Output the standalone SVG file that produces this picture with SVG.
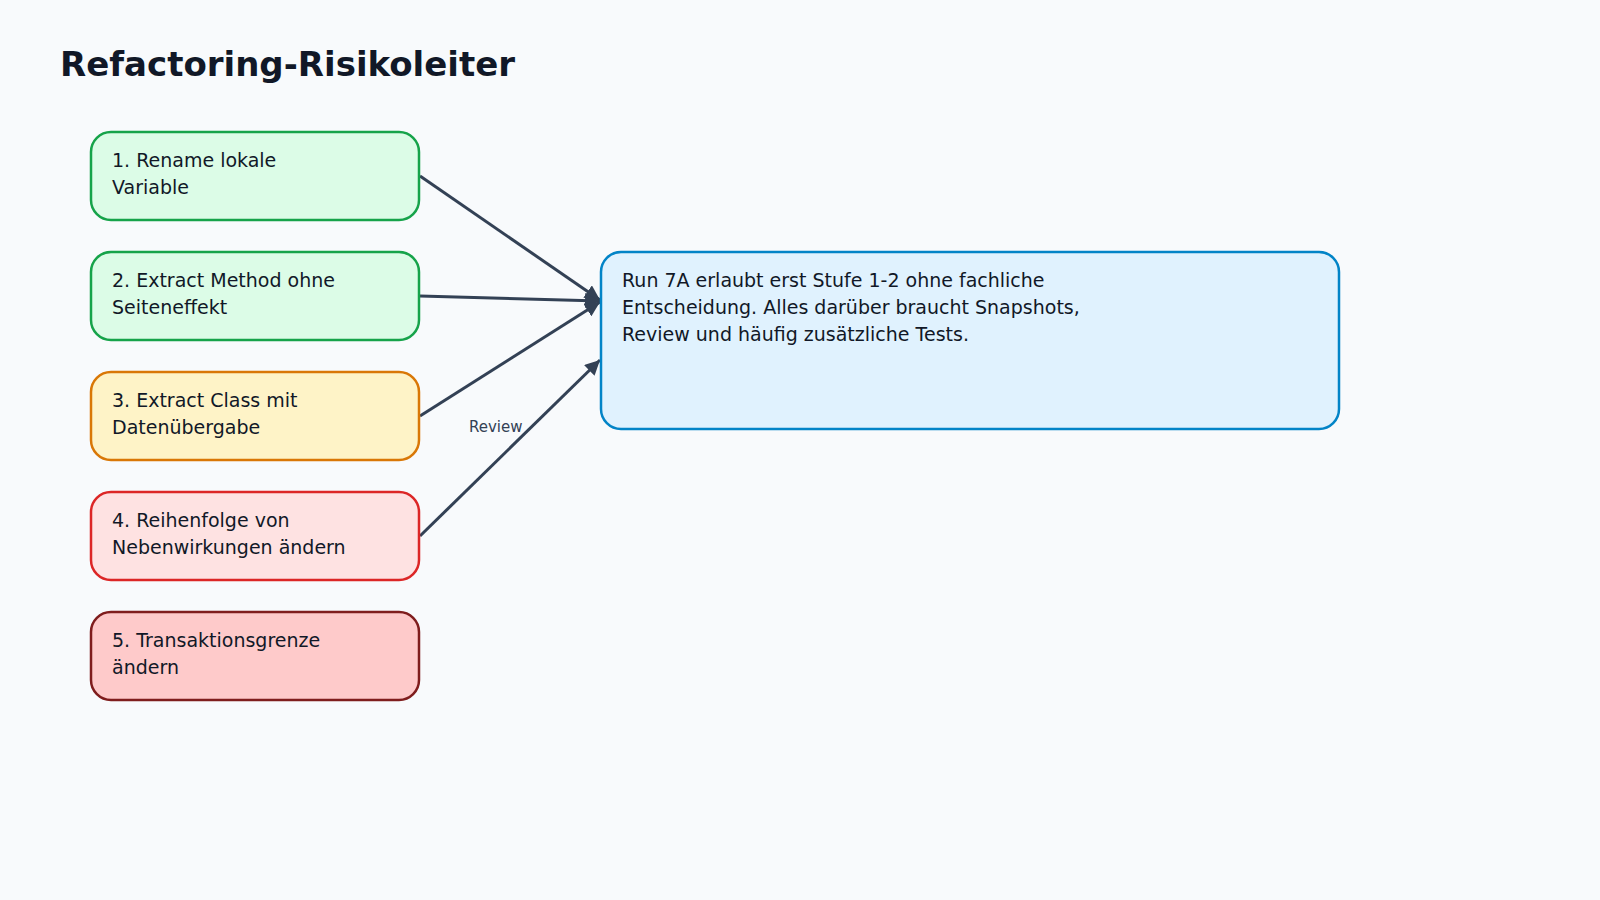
<svg xmlns="http://www.w3.org/2000/svg" width="1600" height="900" viewBox="0 0 1600 900">
<style>
text{font-family:"DejaVu Sans","Noto Sans",sans-serif;fill:#111827}
.t{font-size:19px}
.box{stroke-width:2.5}
.e{stroke:#334155;stroke-width:3;fill:none}
</style>
<defs><marker id="a" viewBox="0 0 10 10" refX="10" refY="5" markerWidth="5" markerHeight="5" orient="auto" markerUnits="strokeWidth"><path d="M0,0L10,5L0,10z" fill="#334155"/></marker></defs>
<rect width="1600" height="900" fill="#f8fafc"/>
<text x="60" y="76" style="font-size:34px;font-weight:bold">Refactoring-Risikoleiter</text>
<g id="connectors">
<line class="e" x1="420" y1="176" x2="600" y2="300" marker-end="url(#a)"/>
<line class="e" x1="420" y1="296" x2="600" y2="301" marker-end="url(#a)"/>
<line class="e" x1="420" y1="416" x2="600" y2="302" marker-end="url(#a)"/>
<line class="e" x1="420" y1="536" x2="600" y2="360" marker-end="url(#a)"/>
<text x="469" y="432" style="font-size:15px;fill:#334155">Review</text>
</g>
<g id="n1"><rect class="box" x="91" y="132" width="328" height="88" rx="20" fill="#dcfce7" stroke="#16a34a"/><text class="t" x="112" y="167">1. Rename lokale</text><text class="t" x="112" y="194">Variable</text></g>
<g id="n2"><rect class="box" x="91" y="252" width="328" height="88" rx="20" fill="#dcfce7" stroke="#16a34a"/><text class="t" x="112" y="287">2. Extract Method ohne</text><text class="t" x="112" y="314">Seiteneffekt</text></g>
<g id="n3"><rect class="box" x="91" y="372" width="328" height="88" rx="20" fill="#fef3c7" stroke="#d97706"/><text class="t" x="112" y="407">3. Extract Class mit</text><text class="t" x="112" y="434">Datenübergabe</text></g>
<g id="n4"><rect class="box" x="91" y="492" width="328" height="88" rx="20" fill="#fee2e2" stroke="#dc2626"/><text class="t" x="112" y="527">4. Reihenfolge von</text><text class="t" x="112" y="554">Nebenwirkungen ändern</text></g>
<g id="n5"><rect class="box" x="91" y="612" width="328" height="88" rx="20" fill="#fecaca" stroke="#7f1d1d"/><text class="t" x="112" y="647">5. Transaktionsgrenze</text><text class="t" x="112" y="674">ändern</text></g>
<g id="note"><rect class="box" x="601" y="252" width="738" height="177" rx="20" fill="#e0f2fe" stroke="#0284c7"/><text class="t" x="622" y="287">Run 7A erlaubt erst Stufe 1-2 ohne fachliche</text><text class="t" x="622" y="314">Entscheidung. Alles darüber braucht Snapshots,</text><text class="t" x="622" y="341">Review und häufig zusätzliche Tests.</text></g>
</svg>
